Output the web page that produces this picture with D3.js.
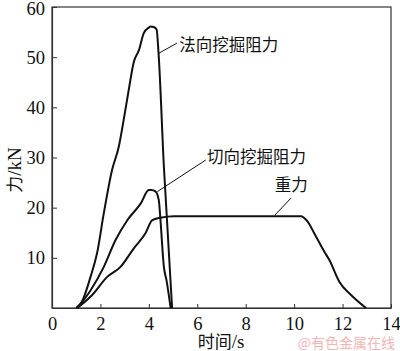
<!DOCTYPE html>
<html>
<head>
<meta charset="utf-8">
<script src="https://cdn.jsdelivr.net/npm/d3@7"></script>
<style>
  body { margin: 0; background: #fff; }
  svg { display: block; }
</style>
</head>
<body>
<div id="chart"></div>
<script>
// time (s) / force (kN)
const normalT = [1.0, 1.24, 1.59, 1.86, 2.14, 2.48, 2.76, 2.96, 3.17, 3.38, 3.59, 3.79, 4.0, 4.07, 4.2, 4.32, 4.40, 4.62, 4.96]
const normalF = [0, 1.3, 6.2, 10.9, 18.9, 27.5, 32.2, 37.5, 43.5, 49.1, 51.4, 54.8, 55.9, 56.1, 56.0, 55.5, 50.8, 28.2, 0]

const tangT = [1.04, 1.59, 2.14, 2.62, 3.11, 3.66, 4.0, 4.1, 4.28, 4.41, 4.48, 4.62, 4.73, 4.90]
const tangF = [0, 3.5, 8.2, 13.5, 17.5, 20.8, 23.5, 23.5, 23.2, 21.5, 17.5, 8.2, 5.5, 0]

const gravT = [1.04, 1.66, 2.28, 2.83, 3.38, 3.86, 4.14, 4.48, 5.04, 6, 8, 10.27, 10.56, 10.83, 11.25, 11.45, 11.87, 12.35, 12.97]
const gravF = [0, 2.6, 6.2, 8.2, 11.9, 14.9, 17.5, 18.0, 18.3, 18.3, 18.3, 18.3, 17.2, 14.9, 11.2, 9.6, 5.2, 2.6, 0]

const xTicks = [0, 2, 4, 6, 8, 10, 12, 14]
const yTicks = [10, 20, 30, 40, 50, 60]

// labels: text, anchor point on curve, leader end, text position (data units)
const labelNames = ['法向挖掘阻力', '切向挖掘阻力', '重力']
const leaderFrom = [[4.42, 50.8], [4.35, 23.2], [9.2, 18.5]]
const leaderTo = [[5.16, 52.8], [6.35, 29.5], [9.87, 21.9]]
const labelPos = [[5.25, 52.4], [6.4, 30.1], [9.2, 24.6]]

const W = 400, H = 351
const margins = {top: 7, right: 9, bottom: 43, left: 52}
const width = W - margins.left - margins.right
const height = H - margins.top - margins.bottom

const serif = '"Liberation Serif", "Times New Roman", serif'
const cjk = '"Noto Sans CJK SC", sans-serif'

const svg = d3.select('#chart').append('svg')
    .attr('width', W)
    .attr('height', H)

const g = svg.append('g')
    .attr('transform', 'translate(' + margins.left + ',' + margins.top + ')')

const x = d3.scaleLinear().domain([0, 14]).range([0, width])
const y = d3.scaleLinear().domain([0, 60]).range([height, 0])

// frame
g.append('rect')
    .attr('width', width)
    .attr('height', height)
    .attr('fill', 'none')
    .attr('stroke', '#333')
    .attr('stroke-width', 1.2)

const xAxis = g.append('g')
    .attr('transform', 'translate(0,' + height + ')')
    .call(d3.axisBottom(x).tickValues(xTicks).tickSizeInner(-4).tickSizeOuter(0).tickPadding(9))
const yAxis = g.append('g')
    .call(d3.axisLeft(y).tickValues(yTicks).tickSizeInner(-5).tickSizeOuter(0).tickPadding(7))

;[xAxis, yAxis].forEach(function(a) {
    a.select('.domain').attr('stroke', '#333').attr('stroke-width', 1.2)
    a.selectAll('.tick line').attr('stroke', '#333')
    a.selectAll('.tick text')
        .attr('fill', '#111')
        .style('font-family', serif)
        .style('font-size', '18.5px')
})
yAxis.selectAll('.tick text').filter(function(d) { return d === 60 }).attr('dy', '0.42em')

const line = d3.line()
    .x(function(d) { return x(d[0]) })
    .y(function(d) { return y(d[1]) })
    .curve(d3.curveMonotoneX)

const series = [d3.zip(normalT, normalF), d3.zip(tangT, tangF), d3.zip(gravT, gravF)]
series.forEach(function(s) {
    g.append('path')
        .datum(s)
        .attr('d', line)
        .attr('fill', 'none')
        .attr('stroke', '#111')
        .attr('stroke-width', 2)
        .attr('stroke-linejoin', 'round')
})

labelNames.forEach(function(name, i) {
    g.append('line')
        .attr('x1', x(leaderFrom[i][0]))
        .attr('y1', y(leaderFrom[i][1]))
        .attr('x2', x(leaderTo[i][0]))
        .attr('y2', y(leaderTo[i][1]))
        .attr('stroke', '#111')
        .attr('stroke-width', 1)
    g.append('text')
        .attr('x', x(labelPos[i][0]))
        .attr('y', y(labelPos[i][1]))
        .attr('dy', '0.36em')
        .attr('fill', '#111')
        .style('font-family', cjk)
        .style('font-size', '16.5px')
        .text(name)
})

// axis titles
const yTitle = svg.append('text')
    .attr('transform', 'translate(15,170) rotate(-90)')
    .attr('text-anchor', 'middle')
    .attr('dy', '0.36em')
    .attr('fill', '#111')
    .style('font-size', '17px')
yTitle.append('tspan').style('font-family', cjk).text('力')
yTitle.append('tspan').style('font-family', serif).style('font-size', '19px').text('/kN')

const xTitle = svg.append('text')
    .attr('x', 221)
    .attr('y', 342)
    .attr('text-anchor', 'middle')
    .attr('dy', '0.34em')
    .attr('fill', '#111')
    .style('font-size', '17px')
xTitle.append('tspan').style('font-family', cjk).text('时间')
xTitle.append('tspan').style('font-family', serif).style('font-size', '19px').text('/s')

// watermark
svg.append('text')
    .attr('x', 395)
    .attr('y', 343)
    .attr('text-anchor', 'end')
    .attr('dy', '0.34em')
    .attr('fill', '#f2b5b5')
    .style('font-family', cjk)
    .style('font-size', '14px')
    .text('@有色金属在线')
</script>
</body>
</html>
